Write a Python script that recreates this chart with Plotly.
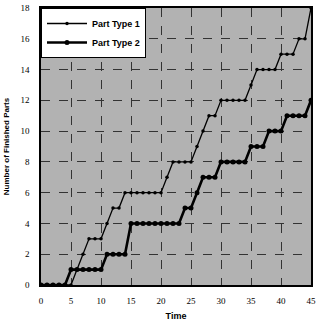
import plotly.graph_objects as go

time = list(range(0, 46))
part_type_1 = [0, 0, 0, 0, 0, 0, 1, 2, 3, 3,
               3, 4, 5, 5, 6, 6, 6, 6, 6, 6,
               6, 7, 8, 8, 8, 8, 9, 10, 11, 11,
               12, 12, 12, 12, 12, 13, 14, 14, 14, 14,
               15, 15, 15, 16, 16, 18]
part_type_2 = [0, 0, 0, 0, 0, 1, 1, 1, 1, 1,
               1, 2, 2, 2, 2, 4, 4, 4, 4, 4,
               4, 4, 4, 4, 5, 5, 6, 7, 7, 7,
               8, 8, 8, 8, 8, 9, 9, 9, 10, 10,
               10, 11, 11, 11, 11, 12]

y_ticks = list(range(0, 19, 2))
x_ticks = list(range(0, 46, 5))

fig = go.Figure()
fig.add_trace(go.Scatter(
    x=time, y=part_type_1, name="Part Type 1", mode="lines+markers",
    line=dict(color="black", width=1.3),
    marker=dict(symbol="circle", size=3.5, color="black"),
))
fig.add_trace(go.Scatter(
    x=time, y=part_type_2, name="Part Type 2", mode="lines+markers",
    line=dict(color="black", width=2.6),
    marker=dict(symbol="circle", size=5, color="black"),
))

fig.update_layout(
    width=319, height=328,
    margin=dict(l=41, r=3, t=8, b=43),
    paper_bgcolor="white",
    plot_bgcolor="#b2b2b2",
    showlegend=True,
    legend=dict(
        x=0, y=1, xanchor="left", yanchor="top",
        bgcolor="white", bordercolor="black", borderwidth=1,
        font=dict(family="Liberation Sans", size=9, color="black", weight="bold"),
        itemwidth=40, tracegroupgap=0,
    ),
    font=dict(family="Liberation Serif", size=9, color="black"),
)
fig.update_xaxes(
    range=[0, 45], tickvals=x_ticks, ticks="", ticklabelstandoff=6,
    showgrid=True, gridcolor="#333333", griddash="dash", gridwidth=1,
    showline=True, linecolor="black", linewidth=1.5, mirror=True, zeroline=False,
    title=dict(text="Time", font=dict(family="Liberation Sans", size=9, weight="bold"), standoff=8),
)
fig.update_yaxes(
    range=[0, 18], tickvals=y_ticks, ticks="", ticklabelstandoff=8,
    showgrid=True, gridcolor="#333333", griddash="dash", gridwidth=1,
    showline=True, linecolor="black", linewidth=1.5, mirror=True, zeroline=False,
    title=dict(text="Number of Finished Parts", font=dict(family="Liberation Sans", size=8, weight="bold"), standoff=10),
)

fig.write_html("out.html")
